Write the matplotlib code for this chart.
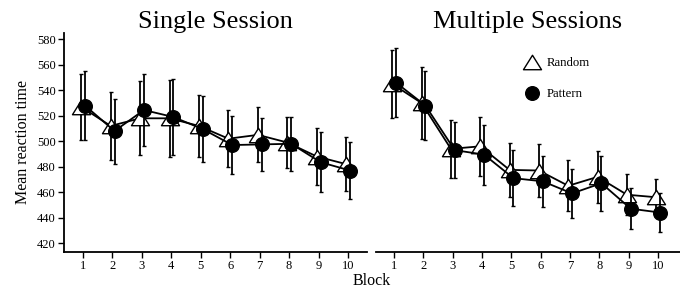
import matplotlib
matplotlib.use("Agg")
import matplotlib.pyplot as plt
from matplotlib.lines import Line2D
from matplotlib.path import Path
import numpy as np

plt.rcParams['font.family'] = ['Liberation Serif', 'DejaVu Serif']

blocks = [1, 2, 3, 4, 5, 6, 7, 8, 9, 10]
titles = ["Single Session", "Multiple Sessions"]
series_names = ["Random", "Pattern"]

single_random = [527, 512, 518, 518, 512, 502, 505, 499, 488, 482]
single_random_err = [26, 27, 29, 30, 24, 22.5, 21.5, 20, 22, 21]
single_pattern = [528, 508, 524.5, 519, 509.5, 497, 497.5, 498, 483.5, 477]
single_pattern_err = [27, 25.5, 28, 30, 26, 23, 21, 21, 23.5, 22.5]

multi_random = [545, 530, 494, 496, 477.5, 477, 465, 472, 458, 456]
multi_random_err = [27, 28, 23, 23, 21, 20.5, 20, 20.5, 16, 14]
multi_pattern = [546, 528, 493, 489.5, 471, 468.5, 459, 467, 447, 444]
multi_pattern_err = [27, 27, 22, 23.5, 22, 20, 19, 21.5, 16, 15.5]

yticks = [420, 440, 460, 480, 500, 520, 540, 560, 580]

fig = plt.figure(figsize=(6.8, 2.89), dpi=100)
ax1 = fig.add_axes([64/680, 1-252/289, (367-64)/680, (252-33)/289])
ax2 = fig.add_axes([376/680, 1-252/289, (680-376)/680, (252-33)/289])

tri = Path([(0, 0.8), (-1, -0.8), (1, -0.8), (0, 0.8)],
           [Path.MOVETO, Path.LINETO, Path.LINETO, Path.CLOSEPOLY])
x = np.array(blocks, dtype=float)

def draw(ax, rm, re, pm, pe):
    xr = x - 0.06
    xp = x + 0.07
    ax.errorbar(xr, rm, yerr=re, fmt='none', ecolor='black', elinewidth=1.3,
                capsize=1.3, capthick=1.0, zorder=2)
    ax.plot(xr, rm, color='black', lw=1.3, marker=tri, markersize=13,
            markerfacecolor='white', markeredgecolor='black', markeredgewidth=1.0, zorder=3)
    ax.errorbar(xp, pm, yerr=pe, fmt='none', ecolor='black', elinewidth=1.3,
                capsize=1.3, capthick=1.0, zorder=4)
    ax.plot(xp, pm, color='black', lw=1.3, marker='o', markersize=9.8,
            markerfacecolor='black', markeredgecolor='black', zorder=5)

draw(ax1, single_random, single_random_err, single_pattern, single_pattern_err)
draw(ax2, multi_random, multi_random_err, multi_pattern, multi_pattern_err)

for ax, t in zip([ax1, ax2], titles):
    ax.set_ylim(413, 585)
    ax.set_xticks(blocks)
    ax.set_xticklabels([str(b) for b in blocks], fontsize=9)
    ax.set_title(t, fontsize=19, pad=3)
    for s in ['top', 'right']:
        ax.spines[s].set_visible(False)
    ax.spines['bottom'].set_linewidth(1.3)
    ax.tick_params(axis='both', direction='out', length=4, width=1.0, pad=2)

ax1.set_xlim(0.355, 10.645)
ax2.set_xlim(0.386, 10.75)
ax1.spines['left'].set_linewidth(1.3)
ax1.set_yticks(yticks)
ax1.set_yticklabels([str(v) for v in yticks], fontsize=9)
ax1.set_ylabel("Mean reaction time", fontsize=11.5, labelpad=4)

ax2.spines['left'].set_visible(False)
ax2.set_yticks([])

fig.text(372/680, 1-281/289, "Block", ha='center', va='center', fontsize=11.5)

handles = [
    Line2D([], [], ls='none', marker=tri, markersize=13, markerfacecolor='white',
           markeredgecolor='black', markeredgewidth=1.0),
    Line2D([], [], ls='none', marker='o', markersize=9.8, markerfacecolor='black',
           markeredgecolor='black'),
]
ax2.legend(handles, series_names, loc='upper left', bbox_to_anchor=(0.47, 0.913),
           frameon=False, fontsize=9.2, labelspacing=1.5, handlelength=1.2,
           handletextpad=0.6, borderaxespad=0)

fig.savefig("out.png", dpi=100)
